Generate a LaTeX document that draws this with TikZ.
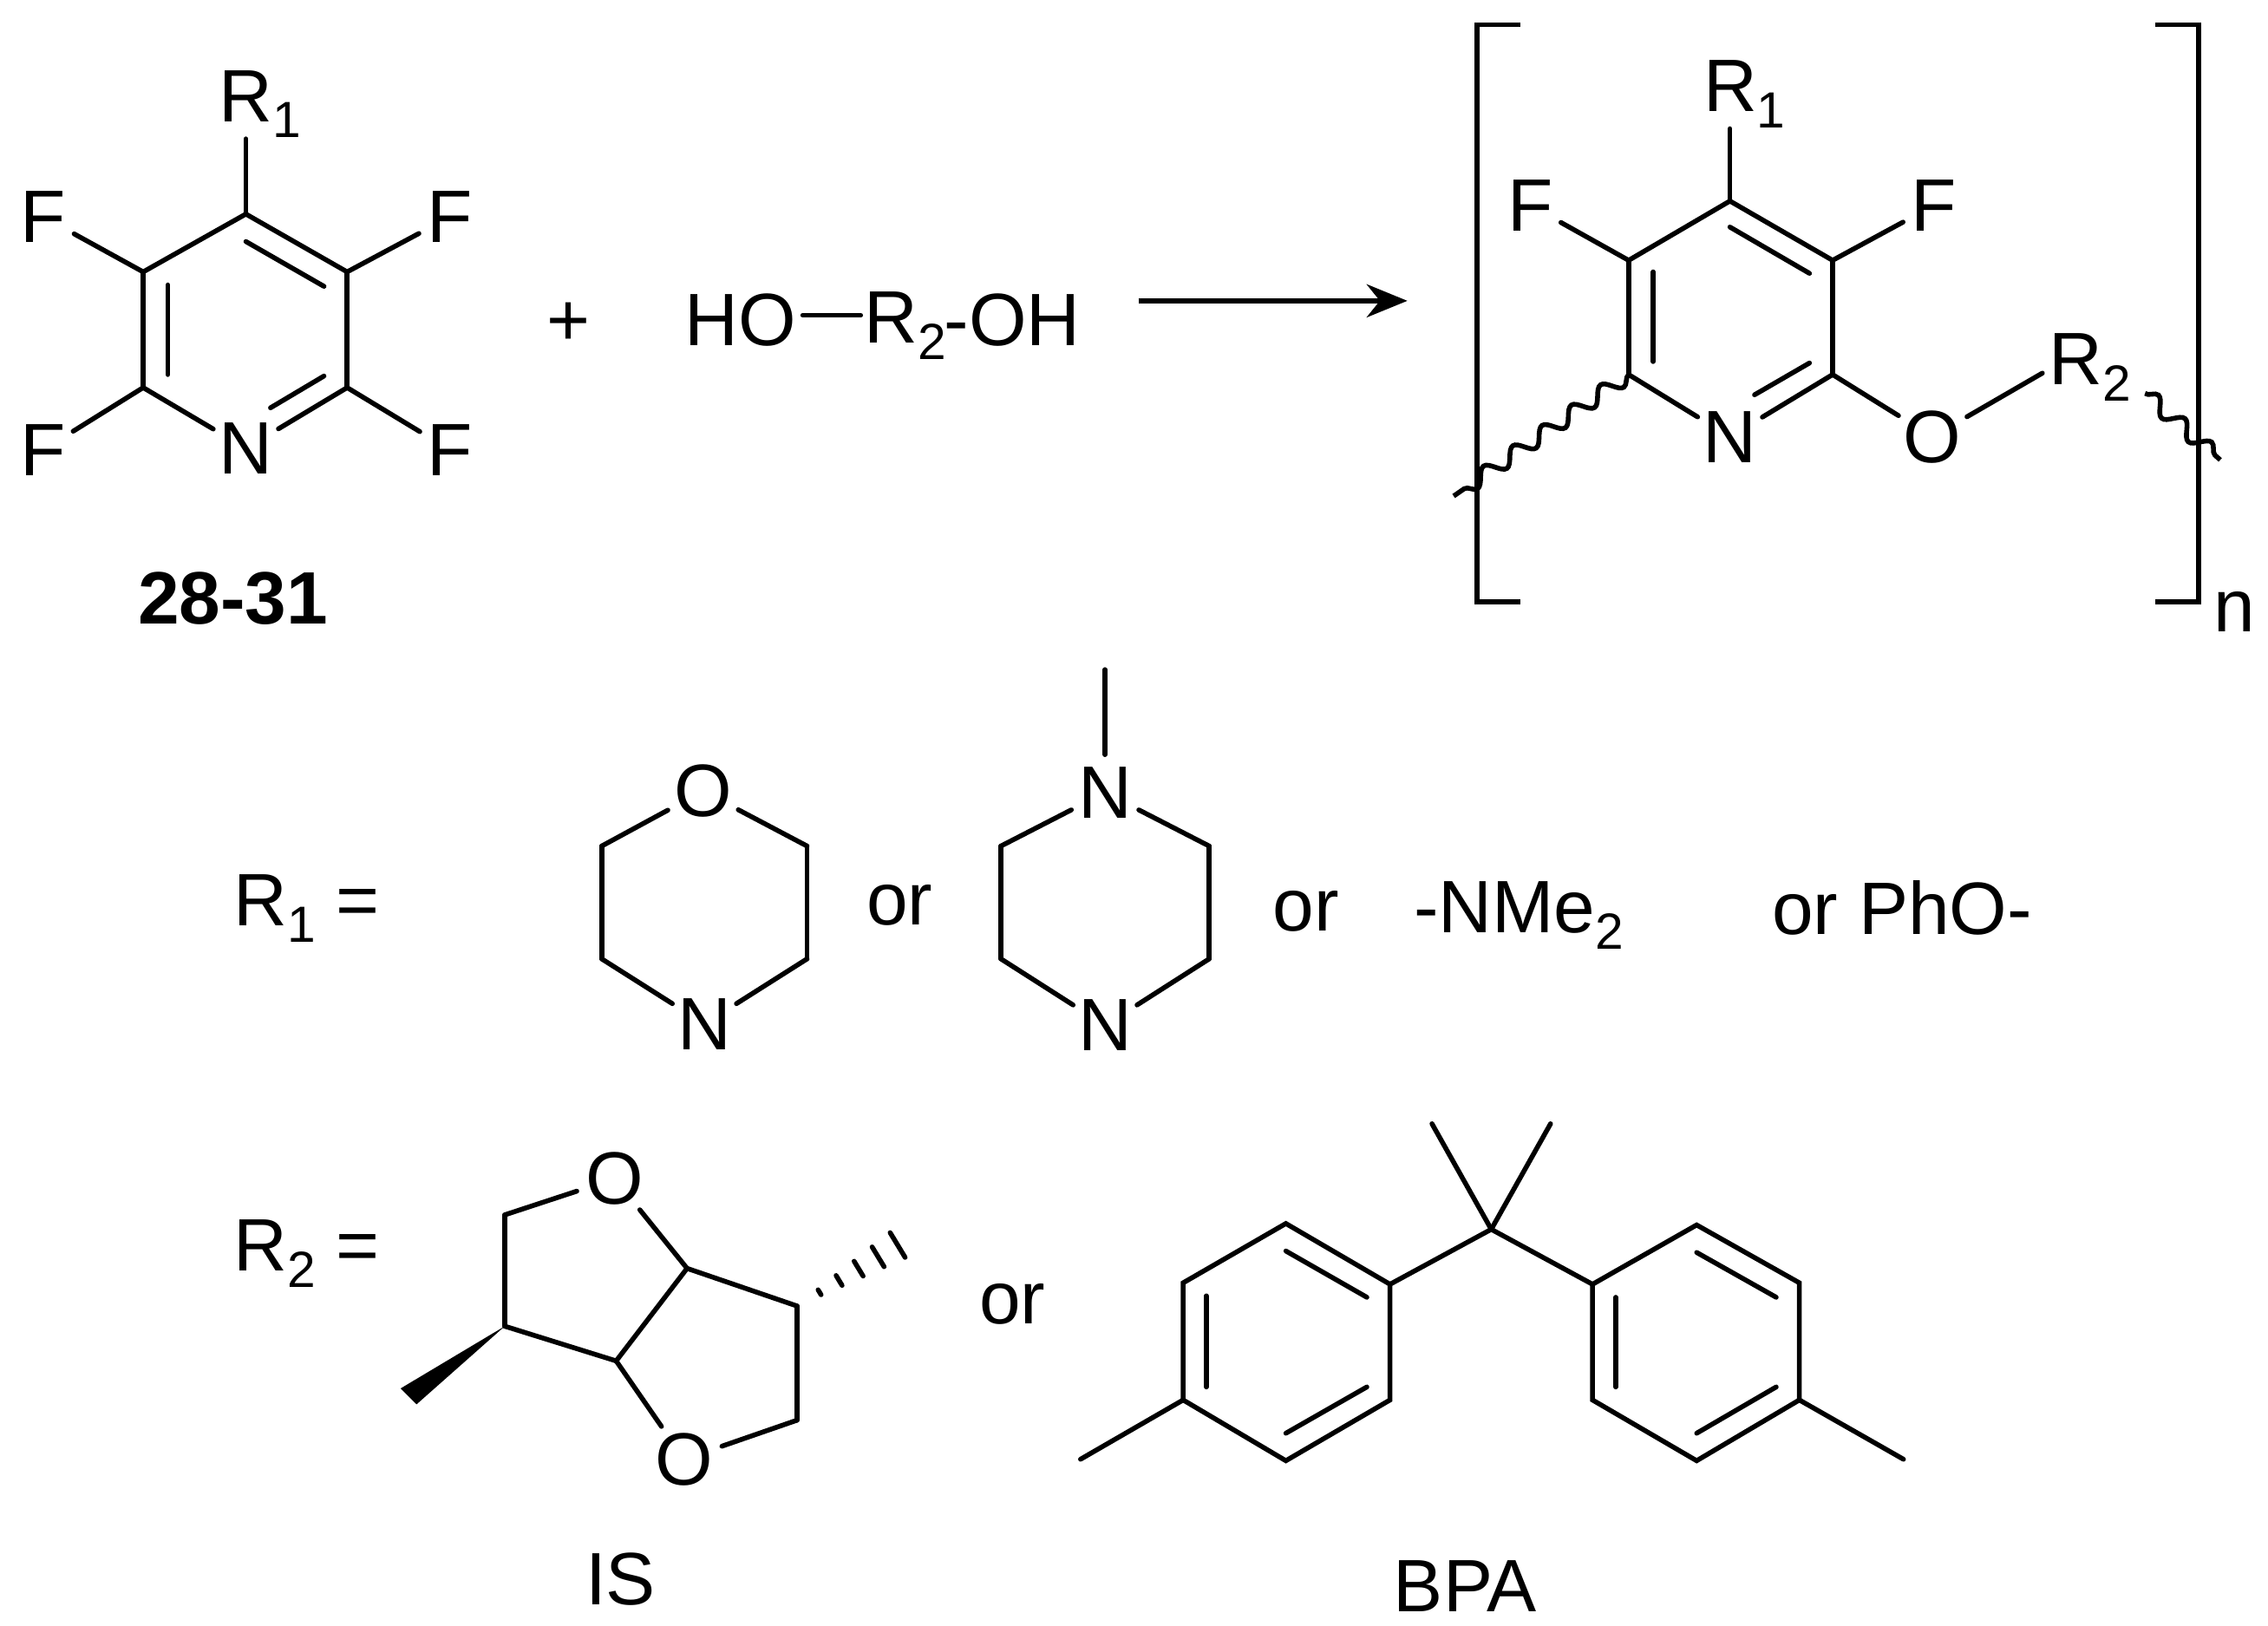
\documentclass[tikz,border=0pt]{standalone}
\usepackage{fontspec}
\setmainfont{Liberation Sans}
\usetikzlibrary{arrows.meta, calc, decorations.pathmorphing}
\newcommand{\lowidx}[1]{\raisebox{-0.22em}{\fontsize{10}{10}\selectfont #1}}

\begin{document}
\begin{tikzpicture}
[x=0.01cm, y=-0.01cm,
 atm/.style={circle, inner sep=0pt, font=\fontsize{14.6}{17}\selectfont},
 txt/.style={inner sep=0pt, font=\fontsize{14.6}{17}\selectfont},
 bond/.style={line width=0.95pt, line cap=round},
 wave/.style={line width=0.95pt, decorate, decoration={snake, amplitude=1.5pt, segment length=7pt}},
 ->/.style={line width=0.95pt, arrows={-{Stealth[length=8pt, width=6.5pt]}}}]
\useasboundingbox (0,0) rectangle (1568,1124);
% monomer
\coordinate (a1) at (170,148);
\coordinate (a2) at (240,188);
\coordinate (a3) at (240,268);
\coordinate (a5) at (99,268);
\coordinate (a6) at (99,188);
\node[atm] (an) at (170,310) {N};
\node[atm] (af1) at (30,150) {F};
\node[atm] (af2) at (311,150) {F};
\node[atm] (af3) at (30,311) {F};
\node[atm] (af4) at (311,311) {F};
\node[txt] (ar) at (180,72) {R\lowidx{1}};
\coordinate (ai1) at (170,167);
\coordinate (ai2) at (224,198);
\coordinate (ai3) at (224,260);
\coordinate (ai4) at (187,282);
\coordinate (ai5) at (116,259);
\coordinate (ai6) at (116,197);
\draw[bond] (a1) -- (a2);
\draw[bond] (a2) -- (a3);
\draw[bond] (a3) -- (an);
\draw[bond] (an) -- (a5);
\draw[bond] (a5) -- (a6);
\draw[bond] (a6) -- (a1);
\draw[bond] (ai1) -- (ai2);
\draw[bond] (ai3) -- (ai4);
\draw[bond] (ai5) -- (ai6);
\draw[bond] (a6) -- (af1);
\draw[bond] (a2) -- (af2);
\draw[bond] (a5) -- (af3);
\draw[bond] (a3) -- (af4);
\draw[bond] (a1) -- (a1 |- ar.south);
\node[txt, font=\fontsize{14.6}{17}\selectfont\bfseries] (lab) at (161,414) {28-31};
\node[txt] (plus) at (393,224) {+};
\node[txt, anchor=east] (ho) at (551,221) {HO};
\node[txt, anchor=west] (rtwo) at (597,225) {R\lowidx{2}};
\node[txt, anchor=west] (oh) at (652,221) {-OH};
\coordinate (hoa) at (555,218);
\coordinate (hob) at (595,218);
\draw[bond] (hoa) -- (hob);
\coordinate (arra) at (787,208);
\coordinate (arrb) at (973,208);
\draw[->] (arra) -- (arrb);
% polymer
\coordinate (b1) at (1196,139);
\coordinate (b2) at (1267,180);
\coordinate (b3) at (1267,259);
\coordinate (b5) at (1126,259);
\coordinate (b6) at (1126,180);
\node[atm] (bn) at (1196,302) {N};
\node[atm] (bo) at (1336,302) {O};
\node[atm] (bf1) at (1058,142) {F};
\node[atm] (bf2) at (1337,142) {F};
\node[txt] (br1) at (1206,65) {R\lowidx{1}};
\node[txt] (br2) at (1445,254) {R\lowidx{2}};
\coordinate (bi1) at (1196,157);
\coordinate (bi2) at (1251,189);
\coordinate (bi3) at (1251,251);
\coordinate (bi4) at (1213,273);
\coordinate (bi5) at (1143,250);
\coordinate (bi6) at (1143,188);
\draw[bond] (b1) -- (b2);
\draw[bond] (b2) -- (b3);
\draw[bond] (b3) -- (bn);
\draw[bond] (bn) -- (b5);
\draw[bond] (b5) -- (b6);
\draw[bond] (b6) -- (b1);
\draw[bond] (bi1) -- (bi2);
\draw[bond] (bi3) -- (bi4);
\draw[bond] (bi5) -- (bi6);
\draw[bond] (b6) -- (bf1);
\draw[bond] (b2) -- (bf2);
\draw[bond] (b1) -- (b1 |- br1.south);
\draw[bond] (b3) -- (bo);
\coordinate (bq) at (1412,258);
\draw[bond] (bo) -- (bq);
\coordinate (wa) at (1126,259);
\coordinate (wb) at (1005,343);
\coordinate (wc) at (1483,272);
\coordinate (wd) at (1535,318);
\draw[wave] (wa) -- (wb);
\draw[wave] (wc) -- (wd);
\coordinate (sl1) at (1051,17);
\coordinate (sl2) at (1021,17);
\coordinate (sl3) at (1021,416);
\coordinate (sl4) at (1051,416);
\coordinate (sr1) at (1490,17);
\coordinate (sr2) at (1520,17);
\coordinate (sr3) at (1520,416);
\coordinate (sr4) at (1490,416);
\draw[bond, line cap=butt] (sl1) -- (sl2) -- (sl3) -- (sl4);
\draw[bond, line cap=butt] (sr1) -- (sr2) -- (sr3) -- (sr4);
\node[txt] (idx) at (1545,423) {n};
% R1 row
\node[txt] (rowa) at (212,628) {R\lowidx{1} =};
\coordinate (m2) at (558,585);
\coordinate (m3) at (558,663);
\coordinate (m5) at (416,663);
\coordinate (m6) at (416,585);
\node[atm] (mo) at (486,547) {O};
\node[atm] (mn) at (487,708) {N};
\draw[bond] (mo) -- (m2);
\draw[bond] (m2) -- (m3);
\draw[bond] (m3) -- (mn);
\draw[bond] (mn) -- (m5);
\draw[bond] (m5) -- (m6);
\draw[bond] (m6) -- (mo);
\node[txt] (ora) at (622,626) {or};
\coordinate (p2) at (836,585);
\coordinate (p3) at (836,663);
\coordinate (p5) at (692,663);
\coordinate (p6) at (692,585);
\coordinate (pme) at (764,463);
\node[atm] (pn1) at (764,548) {N};
\node[atm] (pn2) at (764,709) {N};
\draw[bond] (pn1) -- (p2);
\draw[bond] (p2) -- (p3);
\draw[bond] (p3) -- (pn2);
\draw[bond] (pn2) -- (p5);
\draw[bond] (p5) -- (p6);
\draw[bond] (p6) -- (pn1);
\draw[bond] (pn1) -- (pme);
\node[txt] (orb) at (903,630) {or};
\node[txt] (nme) at (1050,633) {-NMe\lowidx{2}};
\node[txt] (orc) at (1315,628) {or PhO-};
% R2 row
\node[txt] (rowb) at (212,867) {R\lowidx{2} =};
\coordinate (s1) at (349,840);
\coordinate (s2) at (349,917);
\coordinate (s3) at (426,941);
\coordinate (s4) at (475,877);
\coordinate (s5) at (551,903);
\coordinate (s6) at (551,982);
\coordinate (sw1) at (277,960);
\coordinate (sw2) at (288,971);
\coordinate (shash) at (622,860);
\node[atm] (so1) at (425,815) {O};
\node[atm] (so2) at (473,1009) {O};
\draw[bond] (so1) -- (s1);
\draw[bond] (s1) -- (s2);
\draw[bond] (s2) -- (s3);
\draw[bond] (s3) -- (s4);
\draw[bond] (s4) -- (so1);
\draw[bond] (s4) -- (s5);
\draw[bond] (s5) -- (s6);
\draw[bond] (s6) -- (so2);
\draw[bond] (so2) -- (s3);
\fill (s2) -- (sw1) -- (sw2) -- cycle;
\foreach \t/\w in {0.22/0.02, 0.41/0.04, 0.6/0.06, 0.79/0.08, 0.98/0.1}
  \draw[bond] ($(s5)!\t!(shash)!\w cm!90:(shash)$) -- ($(s5)!\t!(shash)!\w cm!-90:(shash)$);
\node[txt] (lis) at (429,1092) {IS};
\node[txt] (ord) at (700,902) {or};
% bisphenol
\coordinate (q0) at (1031,850);
\coordinate (qm1) at (990,777);
\coordinate (qm2) at (1072,777);
\coordinate (l1) at (961,888);
\coordinate (l2) at (961,968);
\coordinate (l3) at (889,1010);
\coordinate (l4) at (818,968);
\coordinate (l5) at (818,887);
\coordinate (l6) at (889,846);
\coordinate (lme) at (747,1009);
\coordinate (r1) at (1101,888);
\coordinate (r2) at (1173,847);
\coordinate (r3) at (1244,887);
\coordinate (r4) at (1244,968);
\coordinate (r5) at (1173,1010);
\coordinate (r6) at (1101,968);
\coordinate (rme) at (1316,1009);
\coordinate (li1) at (889,865);
\coordinate (li2) at (945,897);
\coordinate (li3) at (945,959);
\coordinate (li4) at (889,991);
\coordinate (li5) at (834,959);
\coordinate (li6) at (834,896);
\coordinate (ri1) at (1173,866);
\coordinate (ri2) at (1228,897);
\coordinate (ri3) at (1228,959);
\coordinate (ri4) at (1173,991);
\coordinate (ri5) at (1117,959);
\coordinate (ri6) at (1117,897);
\draw[bond] (q0) -- (qm1);
\draw[bond] (q0) -- (qm2);
\draw[bond] (q0) -- (l1);
\draw[bond] (q0) -- (r1);
\draw[bond] (l1) -- (l2) -- (l3) -- (l4) -- (l5) -- (l6) -- cycle;
\draw[bond] (r1) -- (r2) -- (r3) -- (r4) -- (r5) -- (r6) -- cycle;
\draw[bond] (l4) -- (lme);
\draw[bond] (r4) -- (rme);
\draw[bond] (li1) -- (li2);
\draw[bond] (li3) -- (li4);
\draw[bond] (li5) -- (li6);
\draw[bond] (ri1) -- (ri2);
\draw[bond] (ri3) -- (ri4);
\draw[bond] (ri5) -- (ri6);
\node[txt] (lbp) at (1013,1097) {BPA};
\end{tikzpicture}
\end{document}
